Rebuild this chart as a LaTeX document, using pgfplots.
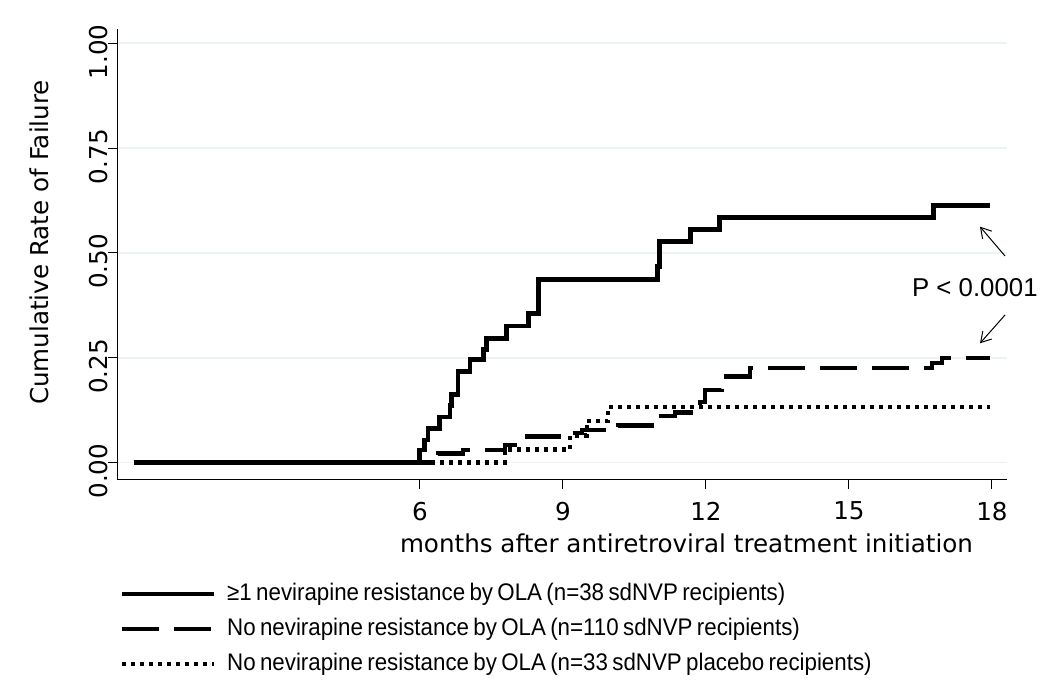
\documentclass[border=0pt]{standalone}
\usepackage{fontspec}
\setmainfont{DejaVu Sans}
\newfontfamily\arialfont{Liberation Sans}
\newfontfamily\narrowfont[FakeStretch=0.93,WordSpace=0.7]{Liberation Sans}
\usepackage{pgfplots}
\pgfplotsset{compat=1.18}
\usetikzlibrary{arrows.meta}
\definecolor{gridc}{RGB}{236,243,244}

\begin{document}
\begin{tikzpicture}
\useasboundingbox (-58.65pt,-100.5pt) rectangle (466.35pt,239.5pt);
\begin{axis}[
  scale only axis, width=444.7pt, height=225pt,
  xmin=-0.35, xmax=18.31, ymin=-0.039, ymax=1.034,
  clip=false,
  axis x line*=bottom, axis y line*=left,
  axis line style={line width=0.5pt, -},
  xtick={6,9,12,15,18},
  ytick={0,0.25,0.5,0.75,1},
  yticklabels={0.00,0.25,0.50,0.75,1.00},
  tick align=outside, major tick length=4.75pt,
  tick style={line width=0.5pt, black},
  ymajorgrids, major grid style={gridc, line width=0.8pt},
  tick label style={font=\fontsize{12.3}{14}\selectfont},
  /pgf/number format/assume math mode=true,
  yticklabel style={rotate=90, anchor=south, inner sep=0pt, xshift=-4.3pt},
  xticklabel style={anchor=north, inner sep=0pt, yshift=-6.5pt},
  xlabel={months after antiretroviral treatment initiation},
  ylabel={Cumulative Rate of Failure},
  label style={font=\fontsize{12.3}{14}\selectfont},
  xlabel style={at={(axis description cs:0.640,-0.1644)}, anchor=base, inner sep=0pt},
  ylabel style={at={(axis description cs:-0.0779,0.5256)}, anchor=base, inner sep=0pt},
  legend style={at={(axis description cs:0.0019,-0.2156)}, anchor=north west,
    draw=none, fill=none, inner sep=0pt, row sep=0pt, column sep=5.5pt,
    font=\narrowfont\fontsize{12}{14}\selectfont,
    nodes={inner sep=0pt, text height=12pt, text depth=5.5pt}},
  legend cell align=left,
  legend image code/.code={\draw[#1] (0pt,0pt) -- (46pt,0pt);},
]
% >=1 NVP resistance (n=38)
\addplot[const plot, line width=2.4pt] coordinates {
  (0,0) (5.99,0.030) (6.10,0.054) (6.17,0.082) (6.41,0.109) (6.63,0.137)
  (6.67,0.163) (6.80,0.217) (7.05,0.245) (7.33,0.270) (7.40,0.296)
  (7.82,0.326) (8.27,0.356) (8.48,0.437) (10.98,0.467) (11.02,0.527)
  (11.68,0.556) (12.28,0.585) (16.78,0.614) (17.97,0.614)};
% no resistance (n=110)
\addplot[const plot, line width=2.2pt, dash pattern=on 18.5pt off 7.5pt] coordinates {
  (0,0) (6.38,0.022) (6.90,0.030) (7.78,0.042) (8.24,0.062) (9.15,0.070)
  (9.40,0.078) (10.16,0.089) (10.97,0.111) (11.35,0.120) (11.88,0.145)
  (11.98,0.173) (12.33,0.205) (12.93,0.225) (16.74,0.237) (16.95,0.249)
  (17.96,0.249)};
% placebo (n=33)
\addplot[const plot, line width=2.2pt, dash pattern=on 2pt off 2.5pt] coordinates {
  (0,0) (7.78,0.031) (9.15,0.065) (9.50,0.100) (9.95,0.133) (17.95,0.133)};
\legend{≥1 nevirapine resistance by OLA (n=38 sdNVP recipients),
  No nevirapine resistance by OLA (n=110 sdNVP recipients),
  No nevirapine resistance by OLA (n=33 sdNVP placebo recipients)}
\node[anchor=base west, inner sep=0pt, font=\arialfont\fontsize{12.9}{15}\selectfont]
  at (axis description cs:0.8932,0.4051) {P < 0.0001};
\draw[line width=0.5pt, -{Straight Barb[length=5pt,width=6pt]}]
  (axis description cs:0.9981,0.4956) -- (axis description cs:0.970,0.5607);
\draw[line width=0.5pt, -{Straight Barb[length=5pt,width=6pt]}]
  (axis description cs:0.9981,0.3644) -- (axis description cs:0.970,0.3016);
\end{axis}
\end{tikzpicture}
\end{document}
